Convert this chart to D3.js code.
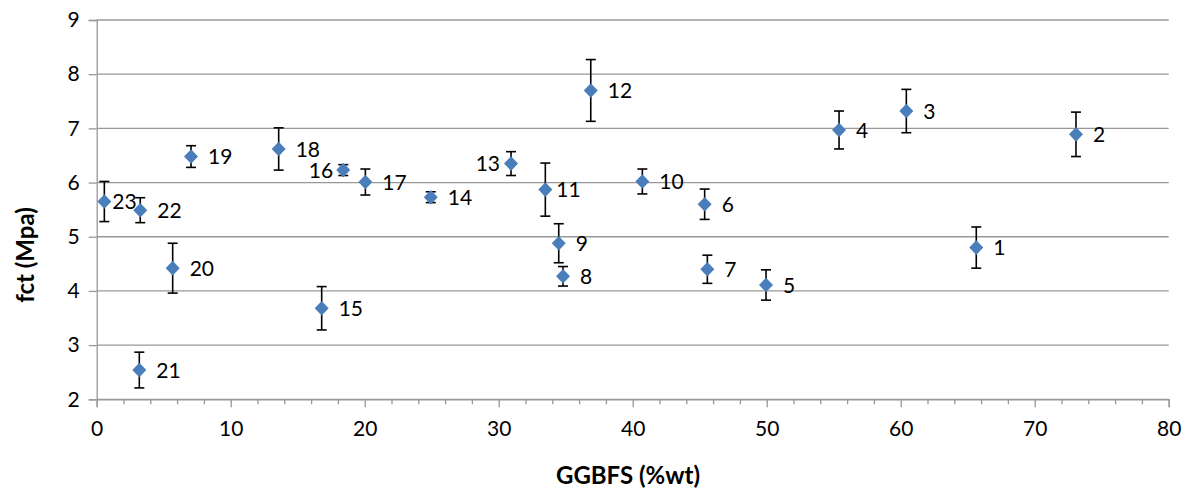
<!DOCTYPE html>
<html>
<head>
<meta charset="utf-8">
<script src="https://cdn.jsdelivr.net/npm/d3@7/dist/d3.min.js"></script>
<style>
  html, body { margin: 0; padding: 0; background: #fff; }
  svg { display: block; font-family: Lato, "Open Sans", sans-serif; }
</style>
</head>
<body>
<svg id="chart" width="1189" height="488"></svg>
<script>
// Mix number, GGBFS content (%wt), tensile strength fct (MPa) and its error
const mixIds = [1, 2, 3, 4, 5, 6, 7, 8, 9, 10, 11, 12, 13, 14, 15, 16, 17, 18, 19, 20, 21, 22, 23];
const ggbfs  = [65.64, 73.08, 60.42, 55.4, 49.95, 45.37, 45.57, 34.8, 34.48, 40.72, 33.48, 36.87, 30.92, 24.93, 16.79, 18.4, 20.05, 13.58, 7.04, 5.67, 3.18, 3.25, 0.57];
const fct    = [4.80, 6.89, 7.32, 6.97, 4.11, 5.60, 4.40, 4.27, 4.88, 6.02, 5.87, 7.70, 6.35, 5.73, 3.68, 6.23, 6.01, 6.62, 6.48, 4.42, 2.54, 5.49, 5.65];
const fctErr = [0.38, 0.41, 0.40, 0.35, 0.28, 0.28, 0.26, 0.18, 0.36, 0.23, 0.49, 0.57, 0.22, 0.10, 0.40, 0.10, 0.24, 0.39, 0.20, 0.46, 0.33, 0.23, 0.37];
const xTicks = [0, 10, 20, 30, 40, 50, 60, 70, 80];
const yTicks = [2, 3, 4, 5, 6, 7, 8, 9];

const svg = d3.select("#chart");
const W = 1189, H = 488;
const margin = { top: 20, right: 20.3, bottom: 88.7, left: 96.7 };
const iw = W - margin.left - margin.right;
const ih = H - margin.top - margin.bottom;

const x = d3.scaleLinear().domain([0, 80]).range([0, iw]);
const y = d3.scaleLinear().domain([2, 9]).range([ih, 0]);

const g = svg.append("g").attr("transform", `translate(${margin.left},${margin.top})`);

const gridColor = "#989898";

// horizontal gridlines
g.append("g").selectAll("line").data(yTicks).join("line")
  .attr("x1", 0).attr("x2", iw)
  .attr("y1", d => y(d)).attr("y2", d => y(d))
  .attr("stroke", gridColor).attr("stroke-width", 1.3);

// y axis
const yAxis = g.append("g")
  .call(d3.axisLeft(y).tickValues(yTicks).tickSize(8).tickPadding(9).tickFormat(d3.format("d")));
yAxis.select(".domain").attr("stroke", gridColor).attr("stroke-width", 1.3);
yAxis.selectAll(".tick line").attr("stroke", gridColor).attr("stroke-width", 1.3);
yAxis.selectAll("text").attr("font-size", 21).attr("fill", "#000").attr("font-family", "Lato, sans-serif");

// x axis with minor ticks every 2 units
const xMinor = d3.range(0, 81, 2).filter(v => v % 10 !== 0);
const xAxisG = g.append("g").attr("transform", `translate(0,${ih})`);
xAxisG.append("g").call(d3.axisBottom(x).tickValues(xMinor).tickSize(5).tickFormat(""))
  .call(s => s.select(".domain").remove())
  .selectAll(".tick line").attr("stroke", gridColor).attr("stroke-width", 1.3);
const xMajor = xAxisG.append("g")
  .call(d3.axisBottom(x).tickValues(xTicks).tickSize(8).tickPadding(14).tickFormat(d3.format("d")));
xMajor.select(".domain").attr("stroke", gridColor).attr("stroke-width", 1.3);
xMajor.selectAll(".tick line").attr("stroke", gridColor).attr("stroke-width", 1.3);
xMajor.selectAll("text").attr("font-size", 21).attr("fill", "#000").attr("font-family", "Lato, sans-serif");

// data records
const pts = mixIds.map((id, i) => ({ id, gx: ggbfs[i], v: fct[i], e: fctErr[i] }));

// error bars
const eb = g.append("g").selectAll("g").data(pts).join("g")
  .attr("stroke", "#000").attr("stroke-width", 1.6);
eb.append("line")
  .attr("x1", d => x(d.gx)).attr("x2", d => x(d.gx))
  .attr("y1", d => y(d.v + d.e)).attr("y2", d => y(d.v - d.e));
eb.append("line")
  .attr("x1", d => x(d.gx) - 5).attr("x2", d => x(d.gx) + 5)
  .attr("y1", d => y(d.v + d.e)).attr("y2", d => y(d.v + d.e));
eb.append("line")
  .attr("x1", d => x(d.gx) - 5).attr("x2", d => x(d.gx) + 5)
  .attr("y1", d => y(d.v - d.e)).attr("y2", d => y(d.v - d.e));

// diamond markers
const diamond = "M0,-7.3L7,0L0,7.3L-7,0Z";
g.append("g").selectAll("path").data(pts).join("path")
  .attr("d", diamond)
  .attr("transform", d => `translate(${x(d.gx)},${y(d.v)})`)
  .attr("fill", "#4a7ebb");

// point labels: most to the right, a few placed to the left or tighter
const labelPlacement = { 13: -11, 16: -10, 23: 8, 11: 11 };
g.append("g").selectAll("text").data(pts).join("text")
  .attr("x", d => x(d.gx) + (labelPlacement[d.id] !== undefined ? labelPlacement[d.id] : 17))
  .attr("y", d => y(d.v))
  .attr("dy", "0.36em")
  .attr("text-anchor", d => (labelPlacement[d.id] !== undefined && labelPlacement[d.id] < 0) ? "end" : "start")
  .attr("font-size", 21)
  .attr("fill", "#000")
  .text(d => d.id);

// axis titles
svg.append("text")
  .attr("x", 628).attr("y", 484)
  .attr("text-anchor", "middle")
  .attr("font-size", 24).attr("font-weight", "bold")
  .text("GGBFS (%wt)");

svg.append("text")
  .attr("transform", "translate(34,255) rotate(-90)")
  .attr("text-anchor", "middle")
  .attr("font-size", 24).attr("font-weight", "bold")
  .text("fct (Mpa)");
</script>
</body>
</html>
